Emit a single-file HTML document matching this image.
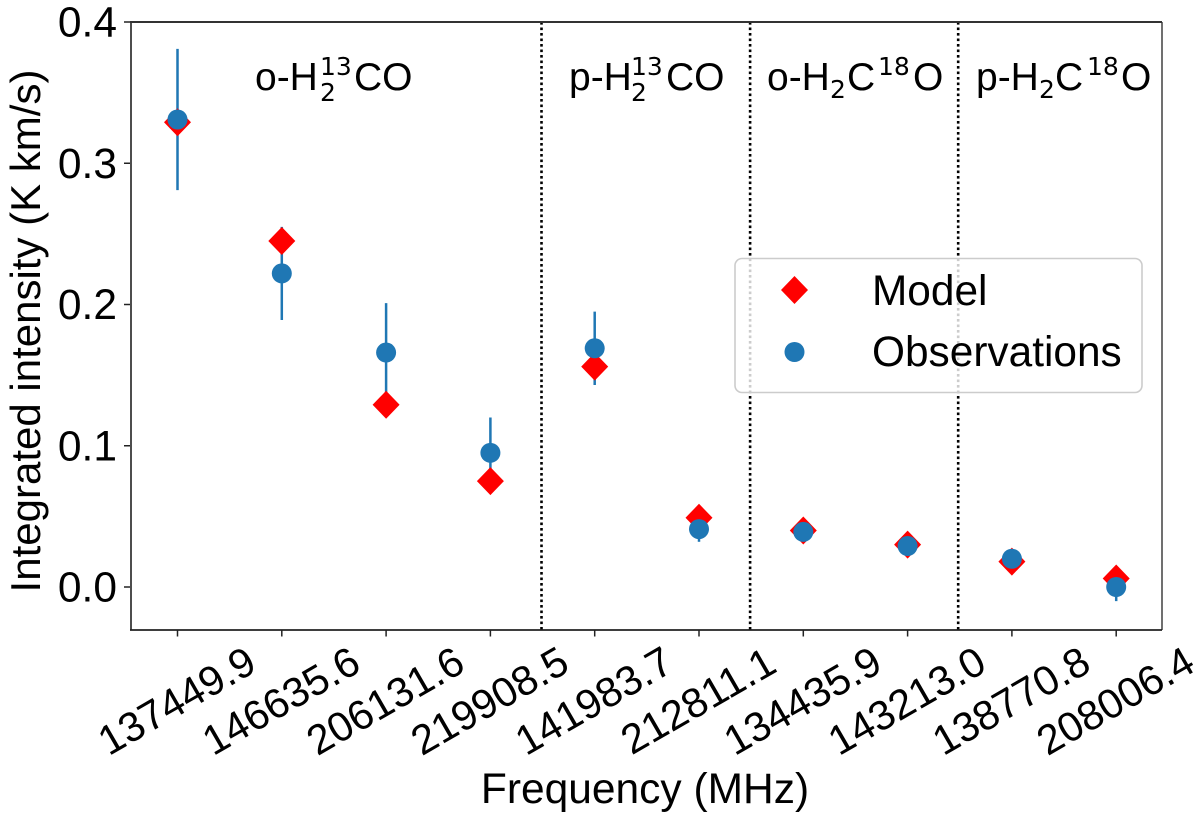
<!DOCTYPE html>
<html lang="en">
<head>
<meta charset="utf-8">
<title>Integrated intensity versus frequency</title>
<style>
html,body{margin:0;padding:0;background:#fff;}
svg{display:block;}
text{font-family:"Liberation Sans",sans-serif;fill:#000;}
.ann text{font-family:"Liberation Sans",sans-serif;font-size:39px;}
.ann text.m{font-family:"DejaVu Sans",sans-serif;font-size:25px;}
</style>
</head>
<body>
<svg id="chart" width="1200" height="824" viewBox="0 0 1200 824" xmlns="http://www.w3.org/2000/svg">
  <rect x="130" y="22" width="1032" height="608" fill="#fff"/>
  <g id="separators"></g>
  <g id="yaxis"></g>
  <g id="xaxis"></g>
  <g id="errorbars"></g>
  <g id="model"></g>
  <g id="obs"></g>
  <g fill="none">
    <line x1="131" y1="22" x2="131" y2="630" stroke="#222" stroke-width="1.6"/>
    <line x1="130" y1="22" x2="1162" y2="22" stroke="#333" stroke-width="2"/>
    <line x1="1162" y1="22" x2="1162" y2="630" stroke="#333" stroke-width="1.4"/>
    <line x1="130" y1="630" x2="1162" y2="630" stroke="#222" stroke-width="1.8"/>
  </g>
  <g class="ann">
    <g>
      <text x="255" y="90">o-H</text><text class="m" x="320" y="101">2</text><text class="m" x="320" y="75">13</text><text x="354" y="90">CO</text>
    </g>
    <g>
      <text x="569" y="90">p-H</text><text class="m" x="631" y="101">2</text><text class="m" x="631" y="75">13</text><text x="666" y="90">CO</text>
    </g>
    <g>
      <text x="767" y="90">o-H</text><text class="m" x="830" y="98">2</text><text x="847" y="90">C</text><text class="m" x="878" y="75">18</text><text x="913" y="90">O</text>
    </g>
    <g>
      <text x="976" y="90">p-H</text><text class="m" x="1039" y="98">2</text><text x="1055" y="90">C</text><text class="m" x="1087" y="75">18</text><text x="1121" y="90">O</text>
    </g>
  </g>
  <g>
    <rect x="735" y="258.5" width="407" height="134" rx="7" ry="7" fill="#fff" fill-opacity="0.8" stroke="#ccc" stroke-width="1.6"/>
    <path d="M794.5 276 L808 290 L794.5 304 L781 290 Z" fill="#ff0000"/>
    <circle cx="794.5" cy="352" r="10" fill="#1f77b4"/>
    <text x="872" y="305" font-size="42.4">Model</text>
    <text x="872" y="366" font-size="42.4">Observations</text>
  </g>
  <text x="645" y="803" font-size="42.5" text-anchor="middle">Frequency (MHz)</text>
  <text transform="translate(40 331) rotate(-90)" font-size="42" text-anchor="middle">Integrated intensity (K km/s)</text>
</svg>
<script>
var categories = ["137449.9","146635.6","206131.6","219908.5","141983.7","212811.1","134435.9","143213.0","138770.8","208006.4"];
var modelValues = [0.329,0.245,0.129,0.075,0.156,0.049,0.040,0.030,0.018,0.006];
var obsValues = [0.331,0.222,0.166,0.095,0.169,0.041,0.039,0.029,0.020,0.000];
var obsErrors = [0.050,0.033,0.035,0.025,0.026,0.009,0.004,0.003,0.002,0.010];
var yTicks = ["0.0","0.1","0.2","0.3","0.4"];
var separators = [3.49,5.49,7.485];

var NS = "http://www.w3.org/2000/svg";
function xScale(i){ return 177.5 + i * 104.3; }
function yScale(v){ return 587 - v * 1412.5; }
function make(tag, parent, attrs){
  var el = document.createElementNS(NS, tag);
  for (var k in attrs) { el.setAttribute(k, attrs[k]); }
  parent.appendChild(el);
  return el;
}
var gSep = document.getElementById("separators");
var gY = document.getElementById("yaxis");
var gX = document.getElementById("xaxis");
var gErr = document.getElementById("errorbars");
var gModel = document.getElementById("model");
var gObs = document.getElementById("obs");

separators.forEach(function(s){
  var el = make("line", gSep, {x1:xScale(s), x2:xScale(s), y1:22, y2:630, stroke:"#000", "stroke-width":2.6, "stroke-dasharray":"2.6 2.9"});
  
  
});
yTicks.forEach(function(t){
  var y = yScale(parseFloat(t));
  var tick = make("line", gY, {x1:124, x2:130, y1:y, y2:y, stroke:"#222", "stroke-width":1.5});
  
  
  var label = make("text", gY, {x:117, y:y+14.5, "font-size":42.5, "text-anchor":"end"});
  label.textContent = t;
  
  
});
categories.forEach(function(c, i){
  var x = xScale(i);
  var tick = make("line", gX, {x1:x, x2:x, y1:630, y2:636.5, stroke:"#222", "stroke-width":1.5});
  
  
  var label = make("text", gX, {x:0, y:14.5, "font-size":41.5, "text-anchor":"middle", transform:"translate(" + (x - 1) + " 700.5) rotate(-30)"});
  label.textContent = c;
  
  

  var bar = make("line", gErr, {x1:x, x2:x, y1:yScale(obsValues[i] + obsErrors[i]), y2:yScale(obsValues[i] - obsErrors[i]), stroke:"#1f77b4", "stroke-width":2.5});
  
  

  var my = yScale(modelValues[i]);
  var d = make("path", gModel, {d:"M" + x + " " + (my-14) + " L" + (x+13.5) + " " + my + " L" + x + " " + (my+14) + " L" + (x-13.5) + " " + my + " Z", fill:"#ff0000"});
  
  

  var o = make("circle", gObs, {cx:x, cy:yScale(obsValues[i]), r:10, fill:"#1f77b4"});
  
  
});
</script>
</body>
</html>
